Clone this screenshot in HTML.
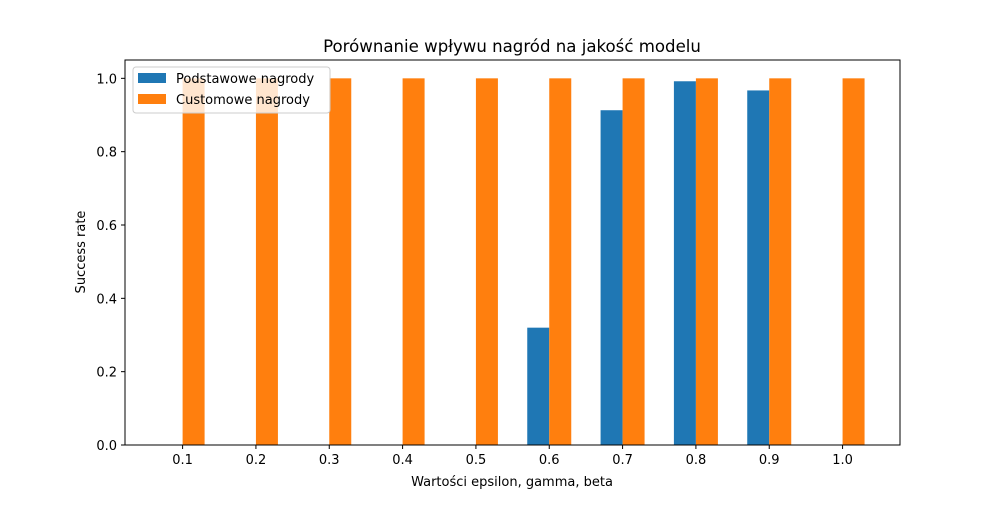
<!DOCTYPE html>
<html><head><meta charset="utf-8"><style>
body{margin:0;background:#fff;font-family:"Liberation Sans","DejaVu Sans",sans-serif;}
svg text{font-family:"DejaVu Sans","Liberation Sans",sans-serif;}
</style></head><body>
<svg id="chart" width="1000" height="500" xmlns="http://www.w3.org/2000/svg">
<rect width="1000" height="500" fill="#fff"/>
<text x="512" y="52" font-size="16.6" text-anchor="middle">Porównanie wpływu nagród na jakość modelu</text>
<g id="bars"></g>
<g id="axes"></g>
<text x="512" y="486" font-size="13" text-anchor="middle">Wartości epsilon, gamma, beta</text>
<text transform="translate(85,252) rotate(-90)" font-size="13" text-anchor="middle">Success rate</text>
<g>
<rect x="133" y="67" width="197" height="46" fill="#fff" fill-opacity="0.8" stroke="#ccc" rx="3"/>
<rect x="138" y="73" width="28" height="10" fill="#1f77b4"/>
<text x="176" y="83" font-size="13">Podstawowe nagrody</text>
<rect x="138" y="94" width="28" height="10" fill="#ff7f0e"/>
<text x="176" y="104" font-size="13">Customowe nagrody</text>
</g>
</svg>
<script>
const categories=["0.1","0.2","0.3","0.4","0.5","0.6","0.7","0.8","0.9","1.0"];
const basicValues=[0,0,0,0,0,0.32,0.913,0.992,0.967,0];
const customValues=[1,1,1,1,1,1,1,1,1,1];
const yTicks=[0,0.2,0.4,0.6,0.8,1.0];
const NS="http://www.w3.org/2000/svg";
const L=125,R=900,T=60,B=445,yMax=1.05;
const step=73.33,x0=182.6;
function xs(i){return x0+i*step;}
function ys(v){return B-(v/yMax)*(B-T);}
const bw=0.3*step;
const bars=document.getElementById('bars');
const axes=document.getElementById('axes');
function mk(tag,attrs,parent){const e=document.createElementNS(NS,tag);for(const k in attrs)e.setAttribute(k,attrs[k]);parent.appendChild(e);return e;}
categories.forEach((c,i)=>{
  const b=mk('rect',{x:xs(i)-bw,y:ys(basicValues[i]),width:bw,height:B-ys(basicValues[i]),fill:'#1f77b4'},bars);
  
  
  const o=mk('rect',{x:xs(i),y:ys(customValues[i]),width:bw,height:B-ys(customValues[i]),fill:'#ff7f0e'},bars);
  
  
  mk('line',{x1:xs(i),x2:xs(i),y1:B,y2:B+4,stroke:'#000'},axes);
  const t=mk('text',{x:xs(i),y:B+19,'font-size':13,'text-anchor':'middle'},axes);
  t.textContent=c;
  
  
});
yTicks.forEach(v=>{
  mk('line',{x1:L-4,x2:L,y1:ys(v),y2:ys(v),stroke:'#000'},axes);
  const t=mk('text',{x:L-8,y:ys(v)+5,'font-size':13,'text-anchor':'end'},axes);
  t.textContent=v.toFixed(1);
  
  
});
const f=mk('rect',{x:L,y:T,width:R-L,height:B-T,fill:'none',stroke:'#000','stroke-width':1},axes);


</script>
</body></html>
